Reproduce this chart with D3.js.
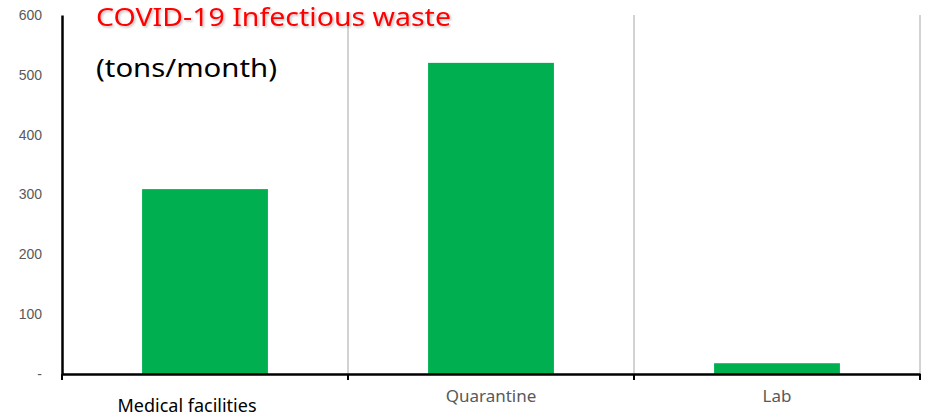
<!DOCTYPE html>
<html><head><meta charset="utf-8">
<script src="https://cdn.jsdelivr.net/npm/d3@7/dist/d3.min.js"></script>
<style>body{margin:0;background:#fff}</style>
</head><body>
<svg id="c" width="935" height="418"></svg>
<script>
const categories = ["Medical facilities", "Quarantine", "Lab"];
const values = [309, 520, 18];
const yTicks = [0, 100, 200, 300, 400, 500, 600];
const titleText = "COVID-19 Infectious waste";
const unitText = "(tons/month)";

const svg = d3.select("#c");
const m = {l: 62, r: 15, t: 15, b: 44};
const W = 935, H = 418;
const x = d3.scaleBand().domain(categories).range([m.l, W - m.r]).paddingInner(0).paddingOuter(0);
const y = d3.scaleLinear().domain([0, 600]).range([H - m.b, m.t]);

// vertical separators
const seps = categories.map(c => x(c) + x.bandwidth());
svg.selectAll("line.sep").data(seps).enter().append("line")
  .attr("x1", d => d).attr("x2", d => d).attr("y1", y(600)).attr("y2", y(0))
  .attr("stroke", "#a6a6a6").attr("stroke-width", 1);

// bars
const bw = x.bandwidth() * 0.44;
svg.selectAll("rect.bar").data(values).enter().append("rect")
  .attr("x", (d, i) => x(categories[i]) + (x.bandwidth() - bw) / 2)
  .attr("width", bw)
  .attr("y", d => y(d)).attr("height", d => y(0) - y(d))
  .attr("fill", "#00b050");

// y axis
const ya = svg.append("g").attr("transform", `translate(${m.l},0)`)
  .call(d3.axisLeft(y).tickValues(yTicks).tickSize(0).tickPadding(20)
    .tickFormat(d => d === 0 ? "-" : d));
ya.select(".domain").attr("stroke", "#000").attr("stroke-width", 2.5);
ya.selectAll("text").attr("font-family", "Liberation Sans, Arial, sans-serif").attr("font-size", 14).attr("fill", "#595959");

// x axis
const xa = svg.append("g").attr("transform", `translate(0,${y(0)})`)
  .call(d3.axisBottom(x).tickSize(0).tickFormat(""));
xa.select(".domain").attr("stroke", "#000").attr("stroke-width", 2.5);
const tickXs = [m.l].concat(seps);
svg.selectAll("line.xt").data(tickXs).enter().append("line")
  .attr("x1", d => d).attr("x2", d => d).attr("y1", y(0)).attr("y2", y(0) + 6)
  .attr("stroke", "#000").attr("stroke-width", 2);

// category labels
svg.selectAll("text.cat").data(categories).enter().append("text")
  .attr("x", (d, i) => x(d) + x.bandwidth() / 2 - (i === 0 ? 18 : 0))
  .attr("y", (d, i) => i === 0 ? 412 : 402)
  .attr("text-anchor", "middle")
  .attr("font-family", "Noto Sans, sans-serif")
  .attr("font-size", (d, i) => i === 0 ? 18 : 17)
  .attr("fill", (d, i) => i === 0 ? "#000" : "#595959")
  .text(d => d);

// title
const defs = svg.append("defs");
const f = defs.append("filter").attr("id", "sh").attr("x", "-5%").attr("y", "-20%").attr("width", "110%").attr("height", "140%");
f.append("feDropShadow").attr("dx", 1.5).attr("dy", 1.5).attr("stdDeviation", 1).attr("flood-color", "#000").attr("flood-opacity", 0.25);
svg.append("text").attr("x", 96).attr("y", 26)
  .attr("font-family", "Noto Sans, sans-serif").attr("font-size", 25)
  .attr("fill", "#ff0000").attr("filter", "url(#sh)")
  .attr("textLength", 355).attr("lengthAdjust", "spacingAndGlyphs")
  .text(titleText);
svg.append("text").attr("x", 96).attr("y", 77)
  .attr("font-family", "Noto Sans, sans-serif").attr("font-size", 26)
  .attr("fill", "#000")
  .attr("textLength", 181).attr("lengthAdjust", "spacingAndGlyphs")
  .text(unitText);
</script>
</body></html>
